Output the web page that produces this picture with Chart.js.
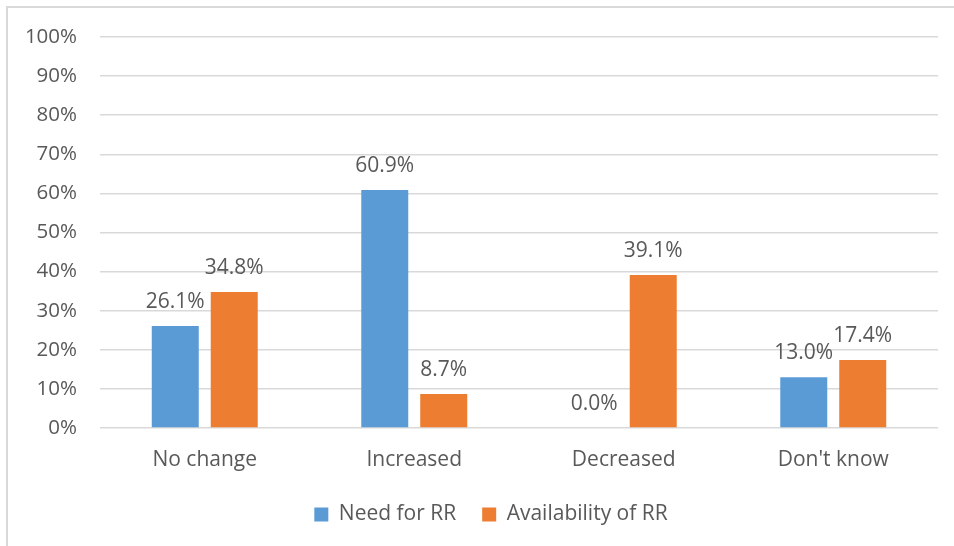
<!DOCTYPE html>
<html>
<head>
<meta charset="utf-8">
<script src="https://cdn.jsdelivr.net/npm/chart.js@4.4.1/dist/chart.umd.min.js"></script>
<style>
  html, body { margin: 0; padding: 0; background: #fff; }
  #wrap { position: relative; width: 954px; height: 546px; overflow: hidden; }
  #frame { position: absolute; left: 6px; top: 6px; width: 980px; height: 580px; border: 2px solid #d9d9d9; box-sizing: border-box; }
  #c { position: absolute; left: 0; top: 0; }
</style>
</head>
<body>
<div id="wrap">
  <div id="frame"></div>
  <canvas id="c" width="954" height="546"></canvas>
</div>
<script>
const categories = ["No change", "Increased", "Decreased", "Don't know"];
const needForRR = [26.1, 60.9, 0.0, 13.0];
const availabilityOfRR = [34.8, 8.7, 39.1, 17.4];
const seriesNames = ["Need for RR", "Availability of RR"];
const yTicks = [0, 10, 20, 30, 40, 50, 60, 70, 80, 90, 100];

const FONT = "'Open Sans', 'Liberation Sans', sans-serif";
const TEXT = '#595959';

const valueLabels = {
  id: 'valueLabels',
  afterDatasetsDraw(chart) {
    const ctx = chart.ctx;
    ctx.save();
    ctx.font = '21px ' + FONT;
    ctx.fillStyle = TEXT;
    ctx.textAlign = 'center';
    ctx.textBaseline = 'alphabetic';
    chart.data.datasets.forEach((ds, di) => {
      const meta = chart.getDatasetMeta(di);
      meta.data.forEach((el, i) => {
        const v = ds.data[i];
        ctx.fillText(v.toFixed(1) + '%', el.x, el.y - 18);
      });
    });
    ctx.restore();
  }
};

// Center the legend on the whole frame (as in the reference), not only on the chart box
const legendShift = {
  id: 'legendShift',
  afterLayout(chart) {
    if (chart.legend) { chart.legend.left += 22; chart.legend.right += 22; }
  }
};

new Chart(document.getElementById('c'), {
  type: 'bar',
  data: {
    labels: categories,
    datasets: [
      { label: seriesNames[0], data: needForRR, backgroundColor: '#5B9BD5', borderWidth: 0 },
      { label: seriesNames[1], data: availabilityOfRR, backgroundColor: '#ED7D31', borderWidth: 0 }
    ]
  },
  options: {
    responsive: false,
    animation: false,
    devicePixelRatio: 1,
    layout: { padding: { left: 0, right: 16, top: 37, bottom: 11 } },
    datasets: { bar: { categoryPercentage: 0.563, barPercentage: 0.797 } },
    plugins: {
      legend: {
        position: 'bottom',
        labels: {
          color: TEXT,
          font: { family: FONT, size: 21 },
          boxWidth: 14,
          boxHeight: 14,
          padding: 26
        }
      },
      tooltip: { enabled: false }
    },
    scales: {
      x: {
        grid: { display: false, drawTicks: false },
        border: { display: false },
        ticks: { color: TEXT, font: { family: FONT, size: 21 }, padding: 19 },
        afterFit(s) { s.height = 50; }
      },
      y: {
        min: 0, max: 100,
        afterBuildTicks(s) { s.ticks = yTicks.map(v => ({ value: v })); },
        grid: { color: '#d9d9d9', lineWidth: 1.5, drawTicks: false },
        border: { display: false },
        ticks: {
          color: TEXT,
          font: { family: FONT, size: 20.5 },
          padding: 23,
          callback: v => v + '%'
        },
        afterFit(s) { s.width = 100; }
      }
    }
  },
  plugins: [valueLabels, legendShift]
});
</script>
</body>
</html>
